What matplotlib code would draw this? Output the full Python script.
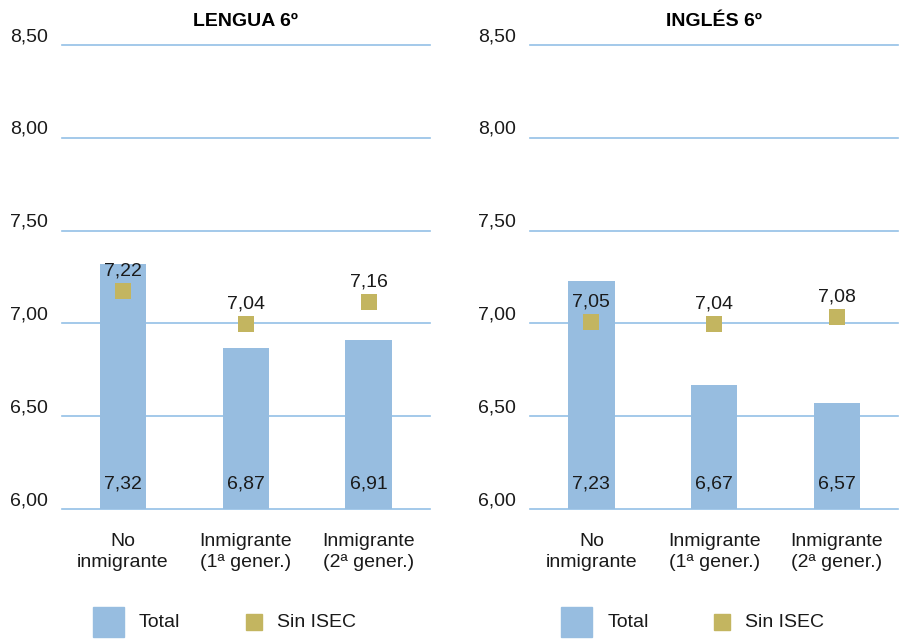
import numpy as np
import matplotlib
matplotlib.use('Agg')
import matplotlib.pyplot as plt
from matplotlib.patches import Rectangle
from matplotlib.transforms import ScaledTranslation

plt.rcParams['font.family'] = ['Liberation Sans Narrow', 'Liberation Sans', 'DejaVu Sans']

categorias = ['No\ninmigrante', 'Inmigrante\n(1ª gener.)', 'Inmigrante\n(2ª gener.)']
titulos = ['LENGUA 6º', 'INGLÉS 6º']
total_lengua = [7.32, 6.87, 6.91]
sin_isec_lengua = [7.22, 7.04, 7.16]
total_ingles = [7.23, 6.67, 6.57]
sin_isec_ingles = [7.05, 7.04, 7.08]
yticks = [6.0, 6.5, 7.0, 7.5, 8.0, 8.5]

azul = '#97bde0'
caqui = '#c3b560'
rejilla = '#94c0e6'
texto = '#1a1a1a'

def fmt(v):
    return f'{v:.2f}'.replace('.', ',')

fig = plt.figure(figsize=(9.06, 6.39), dpi=100)
ax1 = fig.add_axes([0.068, 0.2034, 0.4065, 0.7261])
ax2 = fig.add_axes([0.585, 0.2034, 0.4065, 0.7261])

datos = [(ax1, titulos[0], total_lengua, sin_isec_lengua),
         (ax2, titulos[1], total_ingles, sin_isec_ingles)]

for ax, titulo, total, sin_isec in datos:
    x = np.arange(len(categorias))
    ax.set_xlim(-0.5, 2.5)
    ax.set_ylim(6.0, 8.5)
    for yv in yticks:
        ax.axhline(yv, color=rejilla, lw=1.2, zorder=1, clip_on=False)
    ax.bar(x, np.array(total) - 6.0, bottom=6.0, width=0.377, color=azul, zorder=2)

    # el cuadrado se dibuja con su borde superior en el valor
    desplaz = ax.transData + ScaledTranslation(0, -8 / 100, fig.dpi_scale_trans)
    ax.plot(x, sin_isec, 's', color=caqui, markersize=11.5, markeredgewidth=0,
            transform=desplaz, zorder=3, clip_on=False)

    for xi, t, s in zip(x, total, sin_isec):
        ax.annotate(fmt(t), xy=(xi, 6.0), xytext=(0, 18), textcoords='offset points',
                    ha='center', va='center', fontsize=14, color=texto, zorder=4)
        ax.annotate(fmt(s), xy=(xi, s), xytext=(0, 2.5), textcoords='offset points',
                    ha='center', va='bottom', fontsize=14, color=texto, zorder=4)

    ax.set_xticks(x)
    ax.set_xticklabels(categorias, fontsize=14, color=texto, linespacing=1.3)
    ax.set_yticks(yticks)
    ax.set_yticklabels([fmt(v) for v in yticks], fontsize=14, color=texto)
    for lab in ax.get_yticklabels():
        lab.set_va('bottom')
    ax.tick_params(axis='both', length=0)
    ax.tick_params(axis='y', pad=10)
    ax.tick_params(axis='x', pad=17)
    for sp in ax.spines.values():
        sp.set_visible(False)
    ax.set_title(titulo, fontsize=14, fontweight='bold', color='black', pad=14)

    # leyenda dibujada a mano
    ax.add_patch(Rectangle((0.085, -0.276), 0.084, 0.065, transform=ax.transAxes,
                           color=azul, clip_on=False))
    ax.text(0.21, -0.244, 'Total', transform=ax.transAxes, fontsize=14,
            color=texto, va='center', ha='left')
    ax.add_patch(Rectangle((0.5, -0.261), 0.044, 0.035, transform=ax.transAxes,
                           color=caqui, clip_on=False))
    ax.text(0.584, -0.244, 'Sin ISEC', transform=ax.transAxes, fontsize=14,
            color=texto, va='center', ha='left')

fig.savefig('out.png', dpi=100)
